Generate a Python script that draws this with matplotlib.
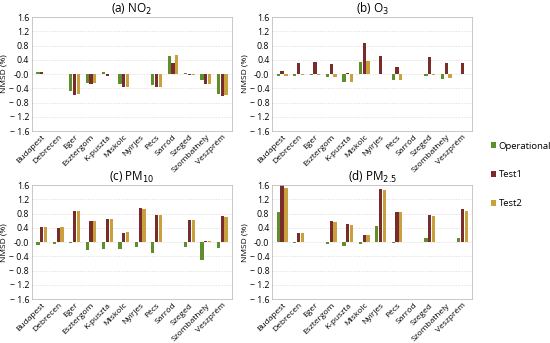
import matplotlib.pyplot as plt
import numpy as np

plt.rcParams["font.family"] = ["Open Sans", "DejaVu Sans"]

stations = ["Budapest", "Debrecen", "Eger", "Esztergom", "K-puszta", "Miskolc",
            "Nyírjes", "Pécs", "Sarród", "Szeged", "Szombathely", "Veszprém"]

# NMSD values per station (Operational, Test1, Test2)
no2_op = [0.05, 0.0, -0.48, -0.25, 0.05, -0.28, 0.0, -0.30, 0.50, 0.02, -0.18, -0.55]
no2_t1 = [0.07, 0.0, -0.58, -0.29, -0.05, -0.37, 0.0, -0.37, 0.30, -0.03, -0.28, -0.62]
no2_t2 = [0.01, 0.0, -0.55, -0.24, 0.0, -0.37, 0.0, -0.37, 0.53, -0.02, -0.28, -0.58]

o3_op = [-0.05, -0.05, -0.02, -0.08, -0.23, 0.35, 0.0, -0.18, 0.0, -0.04, -0.13, -0.01]
o3_t1 = [0.10, 0.31, 0.35, 0.28, 0.03, 0.88, 0.50, 0.20, 0.0, 0.47, 0.31, 0.31]
o3_t2 = [-0.05, -0.03, -0.02, -0.07, -0.23, 0.37, 0.0, -0.18, 0.0, -0.03, -0.11, -0.01]

pm10_op = [-0.09, -0.04, -0.03, -0.22, -0.18, -0.20, -0.14, -0.31, 0.0, -0.13, -0.51, -0.16]
pm10_t1 = [0.43, 0.41, 0.87, 0.60, 0.65, 0.27, 0.95, 0.76, 0.0, 0.62, 0.04, 0.73]
pm10_t2 = [0.42, 0.44, 0.87, 0.60, 0.65, 0.29, 0.94, 0.75, 0.0, 0.62, 0.02, 0.70]

pm25_op = [0.86, -0.01, 0.0, -0.05, -0.10, -0.06, 0.45, -0.03, 0.0, 0.12, 0.0, 0.13]
pm25_t1 = [1.60, 0.25, 0.0, 0.59, 0.52, 0.19, 1.49, 0.84, 0.0, 0.77, 0.0, 0.93]
pm25_t2 = [1.52, 0.26, 0.0, 0.58, 0.49, 0.20, 1.46, 0.84, 0.0, 0.74, 0.0, 0.88]

titles = ["(a) NO$_2$", "(b) O$_3$", "(c) PM$_{10}$", "(d) PM$_{2.5}$"]
series_names = ["Operational", "Test1", "Test2"]
colors = ["#5f8f2d", "#7a2c2c", "#c9a03e"]

panels = [
    (no2_op, no2_t1, no2_t2),
    (o3_op, o3_t1, o3_t2),
    (pm10_op, pm10_t1, pm10_t2),
    (pm25_op, pm25_t1, pm25_t2),
]

positions = [
    [0.058, 0.618, 0.364, 0.332],
    [0.495, 0.618, 0.364, 0.332],
    [0.058, 0.128, 0.364, 0.332],
    [0.495, 0.128, 0.364, 0.332],
]

yticks = np.arange(-1.6, 1.61, 0.4)
ylabels = [f"{v:.1f}" if v >= -0.01 else f"\u2212 {abs(v):.1f}" for v in yticks]

fig = plt.figure(figsize=(5.5, 3.43), dpi=100)
x = np.arange(len(stations))
width = 0.2
offsets = [-0.23, 0.0, 0.23]

for pos, title, data in zip(positions, titles, panels):
    ax = fig.add_axes(pos)
    for vals, off, col, name in zip(data, offsets, colors, series_names):
        ax.bar(x + off, vals, width, color=col, label=name, zorder=2)
    ax.set_ylim(-1.6, 1.6)
    ax.set_xlim(-0.6, len(stations) - 0.4)
    ax.set_yticks(yticks)
    ax.set_yticklabels(ylabels, fontsize=6.3)
    ax.set_xticks(x)
    ax.set_xticklabels(stations, rotation=45, ha="right",
                       rotation_mode="anchor", fontsize=6)
    ax.tick_params(length=0, pad=2)
    ax.grid(axis="y", color="#d9d9d9", linestyle=(0, (2, 2)), linewidth=0.5)
    ax.set_axisbelow(True)
    for s in ax.spines.values():
        s.set_color("#bfbfbf")
        s.set_linewidth(0.6)
    ax.set_ylabel("NMSD (%)", fontsize=6, labelpad=1)
    ax.set_title(title, fontsize=8.5, pad=3)

handles, labels = ax.get_legend_handles_labels()
fig.legend(handles, labels, loc="center left", bbox_to_anchor=(0.892, 0.49),
           frameon=False, fontsize=6.8, handlelength=0.6, handleheight=0.6,
           handletextpad=0.25, labelspacing=2.1, borderaxespad=0,
           borderpad=0)

fig.savefig("out.png", dpi=100)
